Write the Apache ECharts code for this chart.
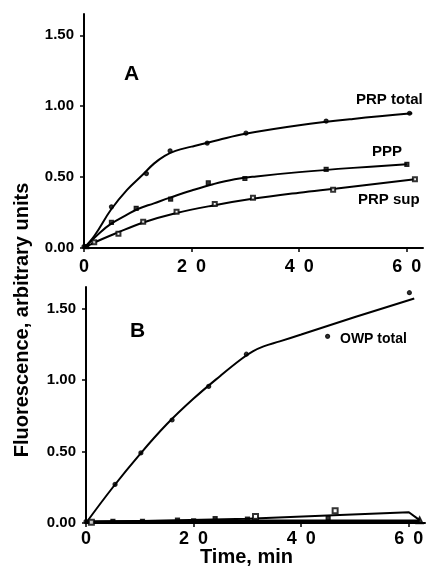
<!DOCTYPE html>
<html>
<head>
<meta charset="utf-8">
<script src="https://cdn.jsdelivr.net/npm/echarts@6/dist/echarts.min.js"></script>
<style>
  html, body { margin: 0; padding: 0; background: #fff; }
  #main { width: 430px; height: 569px; }
</style>
</head>
<body>
<div id="main"></div>
<script>
// tick values and labels
var xTicks = [0, 20, 40, 60];
var xTickLabels = ['0', '2\u20020', '4\u20020', '6\u20020'];
var yTicks = [0, 0.5, 1, 1.5];

// panel A measured points: [time, fluorescence]
var prpTotal = [[0, 0.01], [5.1, 0.29], [11.6, 0.525], [16, 0.685], [22.9, 0.74], [30.1, 0.81], [45, 0.895], [60.5, 0.95]];
var ppp = [[0.5, 0.01], [5.1, 0.18], [9.7, 0.28], [16.1, 0.345], [23.1, 0.46], [29.9, 0.49], [45, 0.555], [60, 0.59]];
var prpSup = [[1.9, 0.04], [6.4, 0.1], [11, 0.185], [17.2, 0.255], [24.3, 0.31], [31.4, 0.355], [46.3, 0.41], [61.5, 0.485]];

// panel A drawn curves
var prpTotalFit = [[0, 0], [2, 0.09], [5, 0.27], [8, 0.41], [11, 0.52], [13, 0.595], [15, 0.65], [17, 0.685], [20, 0.715], [25, 0.762], [30, 0.805], [40, 0.865], [50, 0.91], [61, 0.95]];
var pppFit = [[0, 0], [3, 0.11], [5, 0.17], [8, 0.235], [10, 0.275], [13, 0.315], [16, 0.355], [20, 0.405], [24, 0.45], [28, 0.485], [32, 0.505], [40, 0.535], [50, 0.565], [60, 0.59]];
var prpSupFit = [[0, 0], [2, 0.04], [6, 0.105], [11, 0.18], [17, 0.245], [24, 0.3], [31, 0.345], [40, 0.39], [47, 0.42], [61.5, 0.485]];

// panel B
var owpPoints = [[0, 0.01], [5.4, 0.27], [10.2, 0.49], [16, 0.72], [22.8, 0.955], [29.8, 1.18], [44.9, 1.305], [60.1, 1.61]];
var owpFit = [[0, 0], [5, 0.25], [10, 0.48], [15, 0.69], [20, 0.87], [25, 1.03], [29, 1.15], [31, 1.2], [33, 1.235], [36, 1.27], [40, 1.318], [50, 1.44], [61, 1.57]];
var lowFilled = [[5, 0.012], [10.5, 0.012], [17, 0.02], [20, 0.015], [24, 0.03], [30, 0.028], [45, 0.035]];
var lowOpen = [[1, 0.006], [31.5, 0.045], [46.3, 0.085]];
var lowUpper = [[0, 0.005], [30, 0.03], [46, 0.055], [60, 0.075], [62, 0.02]];
var lowLower = [[0, 0.01], [30, 0.015], [62, 0.015]];
var lowEnd = [[62, 0.02]];

var chart = echarts.init(document.getElementById('main'));

var font = 'Liberation Sans, Arial, sans-serif';

function xAxisCfg(gi) {
  return {
    gridIndex: gi, type: 'value', min: 0, max: 63,
    axisLine: { show: true, lineStyle: { color: '#000', width: 2 } },
    axisTick: { show: true, length: 4, lineStyle: { color: '#000', width: 1.5 }, customValues: xTicks },
    axisLabel: {
      customValues: xTicks, color: '#000', fontFamily: font, fontWeight: 'bold', fontSize: 18,
      margin: gi === 0 ? 10 : 7,
      formatter: function (v) { return xTickLabels[xTicks.indexOf(v)]; }
    },
    splitLine: { show: false }
  };
}
function yAxisCfg(gi) {
  return {
    gridIndex: gi, type: 'value', min: 0, max: 1.65,
    axisLine: { show: true, lineStyle: { color: '#000', width: 2 } },
    axisTick: { show: true, length: 4, lineStyle: { color: '#000', width: 1.5 }, customValues: yTicks },
    axisLabel: {
      customValues: yTicks, color: '#000', fontFamily: font, fontWeight: 'bold', fontSize: 15, margin: 10,
      formatter: function (v) { return v.toFixed(2); }
    },
    splitLine: { show: false }
  };
}

var lineStyle = { color: '#000', width: 2 };

function fitLine(data, ax) {
  return { type: 'line', xAxisIndex: ax, yAxisIndex: ax, data: data, smooth: 0.4,
    showSymbol: false, lineStyle: lineStyle, z: 2 };
}
function points(name, data, ax, symbol, size) {
  return { name: name, type: 'scatter', xAxisIndex: ax, yAxisIndex: ax, data: data,
    symbol: symbol, symbolSize: size, itemStyle: { color: '#000', borderColor: '#000', borderWidth: 1.2 }, z: 3 };
}

var option = {
  animation: false,
  backgroundColor: '#fff',
  grid: [
    { left: 84, top: 14, width: 339, height: 234 },
    { left: 86, top: 287, width: 339, height: 236 }
  ],
  xAxis: [xAxisCfg(0), xAxisCfg(1)],
  yAxis: [yAxisCfg(0), yAxisCfg(1)],
  series: [
    fitLine(prpTotalFit, 0),
    fitLine(pppFit, 0),
    fitLine(prpSupFit, 0),
    points('PRP total', prpTotal, 0, 'circle', 4),
    points('PPP', ppp, 0, 'rect', 4),
    points('PRP sup', prpSup, 0, 'emptyRect', 4),

    fitLine(owpFit, 1),
    points('OWP total', owpPoints, 1, 'circle', 4),
    { type: 'line', xAxisIndex: 1, yAxisIndex: 1, data: lowUpper,
      showSymbol: false, lineStyle: lineStyle },
    { type: 'line', xAxisIndex: 1, yAxisIndex: 1, data: lowLower,
      showSymbol: false, lineStyle: { color: '#000', width: 2.5 } },
    points('low filled', lowFilled, 1, 'rect', 4),
    points('low open', lowOpen, 1, 'emptyRect', 5),
    points('low end', lowEnd, 1, 'triangle', 7)
  ],
  graphic: [
    { type: 'text', left: 124, top: 64, style: { text: 'A', font: 'bold 21px ' + font, fill: '#000' } },
    { type: 'text', left: 130, top: 321, style: { text: 'B', font: 'bold 21px ' + font, fill: '#000' } },
    { type: 'text', left: 356, top: 92, style: { text: 'PRP total', font: 'bold 15px ' + font, fill: '#000' } },
    { type: 'text', left: 372, top: 144, style: { text: 'PPP', font: 'bold 15px ' + font, fill: '#000' } },
    { type: 'text', left: 358, top: 192, style: { text: 'PRP sup', font: 'bold 15px ' + font, fill: '#000' } },
    { type: 'text', left: 340, top: 332, style: { text: 'OWP total', font: 'bold 14px ' + font, fill: '#000' } },
    { type: 'text', left: 200, top: 547, style: { text: 'Time, min', font: 'bold 20px ' + font, fill: '#000' } },
    { type: 'text', x: 22, y: 320, rotation: Math.PI / 2,
      style: { text: 'Fluorescence, arbitrary units', font: 'bold 20px ' + font, fill: '#000',
        align: 'center', verticalAlign: 'middle' } }
  ]
};

chart.setOption(option);
</script>
</body>
</html>
